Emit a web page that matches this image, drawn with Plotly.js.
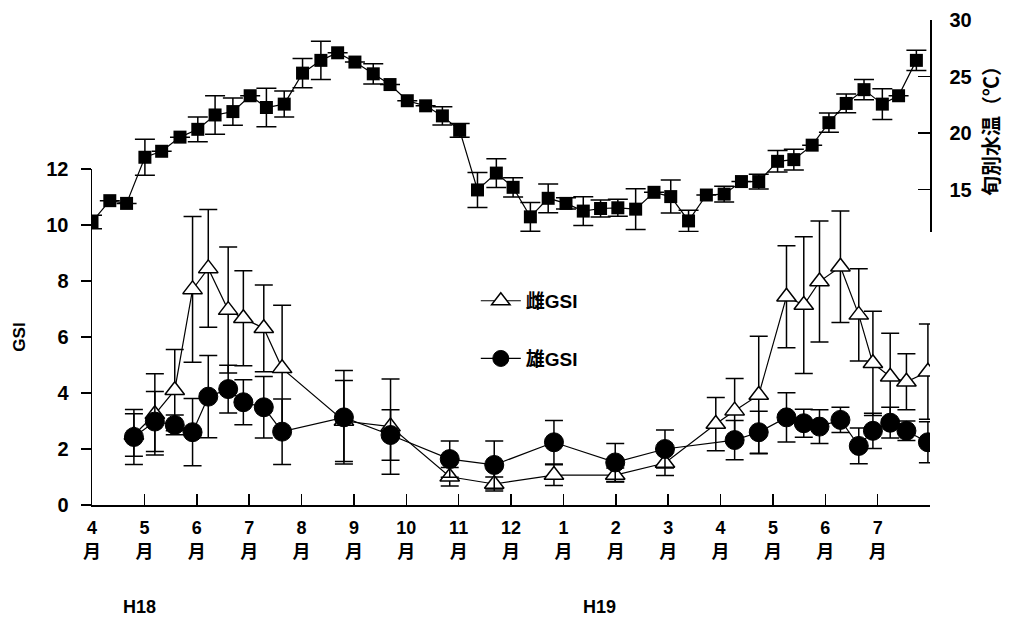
<!DOCTYPE html>
<html>
<head>
<meta charset="utf-8">
<script src="https://cdn.plot.ly/plotly-3.0.1.min.js"></script>
<style>html,body{margin:0;padding:0;background:#fff;}#chart{width:1024px;height:626px;}</style>
</head>
<body>
<div id="chart"></div>
<script>
// Month tick labels (x = months since April H18)
const monthTicks = [0,1,2,3,4,5,6,7,8,9,10,11,12,13,14,15,16];
const monthLabels = ['4','5','6','7','8','9','10','11','12','1','2','3','4','5','6','7',''];

// 旬別水温 (10-day water temperature, °C)
const tempX = [0,0.34,0.66,1.01,1.33,1.68,2.02,2.35,2.69,3.02,3.33,3.67,4.02,4.37,4.69,5.02,5.37,5.69,6.02,6.37,6.69,7.02,7.36,7.72,8.04,8.37,8.71,9.05,9.38,9.71,10.04,10.38,10.73,11.05,11.39,11.73,12.07,12.4,12.73,13.09,13.4,13.75,14.07,14.4,14.74,15.09,15.4,15.74];
const tempVal = [12.14,14.02,13.78,17.86,18.39,19.64,20.33,21.6,21.9,23.3,22.26,22.56,25.3,26.43,27.1,26.28,25.24,24.29,22.86,22.41,21.52,20.24,14.97,16.46,15.2,12.59,14.23,13.78,13.1,13.33,13.39,13.27,14.76,14.38,12.23,14.52,14.6,15.71,15.71,17.5,17.65,18.93,20.92,22.62,23.84,22.56,23.3,26.43];
const tempErr = [0.6,0,0,1.6,0,0,1.1,1.7,1.2,0,1.7,1.15,1.3,1.7,0,0,0.9,0,0,0,0.8,0.6,1.55,1.27,0.85,1.27,1.27,0.5,1.27,0.75,0.75,1.8,0,1.46,0.94,0,0.7,0,0.65,0.95,0.92,0,0.85,0.83,0.9,1.37,0,0.9];

// 雌GSI (female)
const femaleX = [0.80,1.20,1.58,1.92,2.22,2.60,2.89,3.28,3.63,4.81,5.70,6.83,7.68,8.82,9.99,10.94,11.91,12.27,12.73,13.26,13.59,13.89,14.29,14.64,14.91,15.24,15.55,15.96];
const femaleVal = [2.5,3.24,4.1,7.7,8.45,6.96,6.67,6.31,4.88,3.0,2.8,1.01,0.75,1.07,1.07,1.5,2.89,3.37,3.93,7.44,7.14,7.98,8.51,6.79,5.06,4.58,4.4,4.76];
const femaleErr = [0.76,1.45,1.45,2.6,2.1,2.25,1.7,1.55,2.25,1.45,1.7,0.33,0.25,0.37,0.25,0.45,0.95,1.15,2.1,1.82,2.44,2.16,1.99,1.65,1.86,1.55,1.0,1.7];

// 雄GSI (male)
const maleX = [0.80,1.20,1.58,1.92,2.22,2.60,2.89,3.28,3.63,4.81,5.70,6.83,7.68,8.82,9.99,10.94,12.27,12.73,13.26,13.59,13.89,14.29,14.64,14.91,15.24,15.55,15.96];
const maleVal = [2.43,2.98,2.86,2.6,3.87,4.14,3.67,3.49,2.62,3.13,2.5,1.64,1.43,2.24,1.52,2.0,2.32,2.6,3.13,2.92,2.8,3.04,2.11,2.65,2.94,2.65,2.24];
const maleErr = [0.98,1.07,0.35,1.2,1.47,0.85,0.8,1.1,1.17,1.67,0.9,0.65,0.86,0.78,0.68,0.68,0.7,0.75,0.88,0.5,0.6,0.45,0.64,0.63,0.55,0.35,0.73];

const FONT = '"Liberation Sans", Arial, "Noto Sans CJK JP", sans-serif';
const JFONT = '"Liberation Sans", "Noto Sans CJK JP", sans-serif';

const traces = [
  {
    x: femaleX, y: femaleVal, name: '雌GSI', type: 'scatter', mode: 'lines+markers',
    xaxis: 'x', yaxis: 'y', legendgroup: 'f',
    line: {color: '#000', width: 1.2},
    marker: {symbol: 'triangle-up', size: 17, color: '#fff', line: {color: '#000', width: 1.5}},
    error_y: {type: 'data', array: femaleErr, visible: true, color: '#000', thickness: 1.5, width: 9}
  },
  {
    x: maleX, y: maleVal, name: '雄GSI', type: 'scatter', mode: 'lines+markers',
    xaxis: 'x', yaxis: 'y', legendgroup: 'm',
    line: {color: '#000', width: 1.2},
    marker: {symbol: 'circle', size: 19, color: '#000', line: {color: '#000', width: 1}},
    error_y: {type: 'data', array: maleErr, visible: true, color: '#000', thickness: 1.5, width: 9}
  },
  {
    x: tempX, y: tempVal, name: '旬別水温', type: 'scatter', mode: 'lines+markers',
    xaxis: 'x', yaxis: 'y2', showlegend: false,
    line: {color: '#000', width: 1.2},
    marker: {symbol: 'square', size: 13, color: '#000'},
    error_y: {type: 'data', array: tempErr, visible: true, color: '#000', thickness: 1.5, width: 10}
  }
];

const layout = {
  width: 1024, height: 626,
  margin: {l: 92, r: 94, t: 20, b: 121},
  paper_bgcolor: '#fff', plot_bgcolor: 'rgba(0,0,0,0)',
  font: {family: FONT, color: '#000', size: 16, weight: 'bold'},
  showlegend: true,
  legend: {
    x: 0.458, y: 0.46, xanchor: 'left', yanchor: 'top',
    bgcolor: 'rgba(0,0,0,0)', tracegroupgap: 30,
    font: {family: JFONT, size: 19, weight: 'bold', color: '#000'},
    itemwidth: 40
  },
  xaxis: {
    range: [0, 16], anchor: 'y',
    tickmode: 'array', tickvals: monthTicks,
    ticktext: monthLabels.map(m => m === '' ? '' : m + '<br>月'),
    ticks: 'inside', ticklen: 11, tickwidth: 1.5, tickcolor: '#000',
    showline: true, linecolor: '#000', linewidth: 1.5,
    showgrid: false, zeroline: false,
    tickfont: {family: JFONT, size: 18, weight: 'bold', color: '#000'},
    ticklabelstandoff: 6
  },
  yaxis: {
    domain: [0, 0.6928], range: [0, 12],
    tickmode: 'array', tickvals: [0, 2, 4, 6, 8, 10, 12],
    ticks: 'outside', ticklen: 10, tickwidth: 1.5, tickcolor: '#000',
    showline: true, linecolor: '#000', linewidth: 1.5,
    showgrid: false, zeroline: false,
    tickfont: {family: FONT, size: 20, weight: 'bold', color: '#000'},
    ticklabelstandoff: 8,
    title: {text: 'GSI', font: {family: FONT, size: 17, weight: 'bold', color: '#000'}, standoff: 16}
  },
  yaxis2: {
    domain: [0.5629, 1], range: [11.25, 30], anchor: 'x', side: 'right',
    tickmode: 'array', tickvals: [15, 20, 25, 30],
    ticks: 'inside', ticklen: 12, tickwidth: 1.5, tickcolor: '#000',
    showline: true, linecolor: '#000', linewidth: 1.5,
    showgrid: false, zeroline: false,
    tickfont: {family: FONT, size: 20, weight: 'bold', color: '#000'},
    ticklabelstandoff: 14,
    title: {text: '旬別水温（℃）', font: {family: JFONT, size: 20, weight: 'bold', color: '#000'}, standoff: 14}
  },
  annotations: [
    {text: 'H18', xref: 'paper', yref: 'paper', x: 0.057, y: -0.21, showarrow: false,
     xanchor: 'center', yanchor: 'middle', font: {family: FONT, size: 18, weight: 'bold', color: '#000'}},
    {text: 'H19', xref: 'paper', yref: 'paper', x: 0.606, y: -0.21, showarrow: false,
     xanchor: 'center', yanchor: 'middle', font: {family: FONT, size: 18, weight: 'bold', color: '#000'}}
  ]
};

Plotly.newPlot('chart', traces, layout, {displayModeBar: false, staticPlot: true});
</script>
</body>
</html>
